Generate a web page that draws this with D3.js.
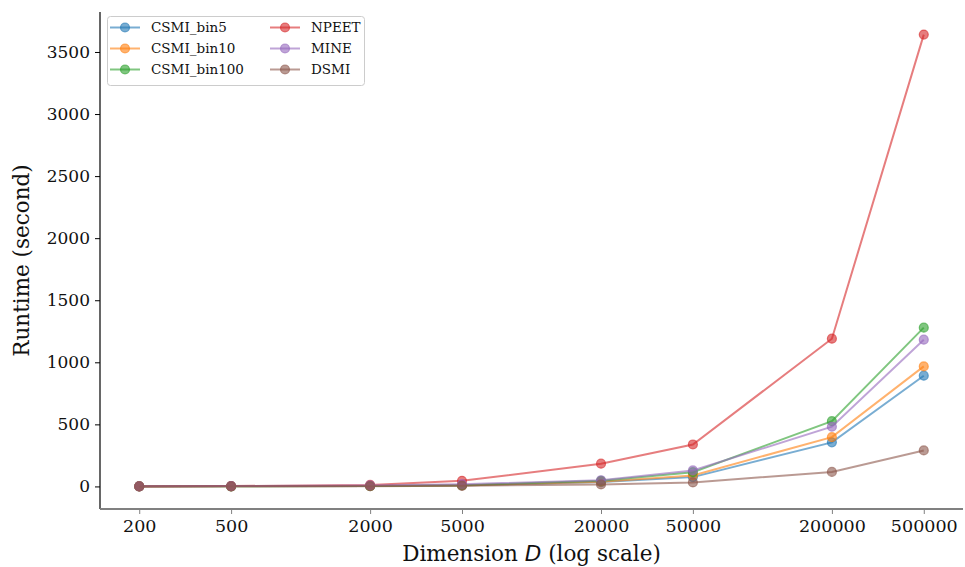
<!DOCTYPE html>
<html>
<head>
<meta charset="utf-8">
<script src="https://cdn.jsdelivr.net/npm/d3@7"></script>
<style>
  html, body { margin: 0; padding: 0; background: #fff; }
  svg { display: block; }
  text { font-family: "DejaVu Serif", serif; }
</style>
</head>
<body>
<svg id="chart" width="965" height="567"></svg>
<script>
// Problem dimensions (x) and runtimes in seconds for each estimator
const dimensions = [200, 500, 2000, 5000, 20000, 50000, 200000, 500000];
const csmiBin5   = [0.3, 0.8, 3, 8, 35, 75, 355, 892];
const csmiBin10  = [0.3, 0.8, 3, 8, 38, 89, 397, 967];
const csmiBin100 = [0.5, 1, 4, 10, 45, 115, 526, 1279];
const npeet      = [1, 3, 12, 45, 183, 338, 1190, 3640];
const mine       = [1, 2.5, 8, 18, 50, 129, 481, 1182];
const dsmi       = [0.2, 0.5, 2, 5, 16, 32, 117, 290];
const seriesNames = ["CSMI_bin5", "CSMI_bin10", "CSMI_bin100", "NPEET", "MINE", "DSMI"];
const yTicks = [0, 500, 1000, 1500, 2000, 2500, 3000, 3500];

const seriesValues = [csmiBin5, csmiBin10, csmiBin100, npeet, mine, dsmi];
const colors = ["#1f77b4", "#ff7f0e", "#2ca02c", "#d62728", "#9467bd", "#8c564b"];
const series = seriesNames.map((name, i) => ({
  name, color: colors[i],
  points: dimensions.map((d, j) => ({ x: d, y: seriesValues[i][j] }))
}));

const svg = d3.select("#chart");
const plot = { left: 100, right: 963, top: 12, bottom: 509 };

// log x domain with 5% padding on each side
const lx0 = Math.log10(d3.min(dimensions)), lx1 = Math.log10(d3.max(dimensions));
const padX = (lx1 - lx0) * 0.05;
const x = d3.scaleLog()
  .domain([Math.pow(10, lx0 - padX), Math.pow(10, lx1 + padX)])
  .range([plot.left, plot.right]);

const allY = seriesValues.flat();
const yMin = d3.min(allY), yMax = d3.max(allY);
const padY = (yMax - yMin) * 0.05;
const y = d3.scaleLinear()
  .domain([yMin - padY, yMax + padY])
  .range([plot.bottom, plot.top]);

// axes
const xAxis = d3.axisBottom(x).tickValues(dimensions).tickFormat(d3.format("d")).tickSize(5).tickPadding(6);
const gx = svg.append("g").attr("transform", `translate(0,${plot.bottom})`).call(xAxis);
gx.select(".domain").remove();
gx.selectAll(".tick line").attr("stroke", "#808080").attr("stroke-width", 1);
gx.selectAll(".tick text").attr("font-family", "DejaVu Serif").attr("font-size", 17.5).attr("fill", "#111");

const yAxis = d3.axisLeft(y).tickValues(yTicks).tickFormat(d3.format("d")).tickSize(5).tickPadding(5);
const gy = svg.append("g").attr("transform", `translate(${plot.left},0)`).call(yAxis);
gy.select(".domain").remove();
gy.selectAll(".tick line").attr("stroke", "#000");
gy.selectAll(".tick text").attr("font-family", "DejaVu Serif").attr("font-size", 17).attr("fill", "#111");

// spines: left and bottom only
svg.append("line").attr("x1", plot.left).attr("x2", plot.left)
  .attr("y1", plot.top).attr("y2", plot.bottom).attr("stroke", "#000").attr("stroke-width", 1.2);
svg.append("line").attr("x1", plot.left).attr("x2", plot.right)
  .attr("y1", plot.bottom).attr("y2", plot.bottom).attr("stroke", "#808080").attr("stroke-width", 2);

// axis titles
const xt = svg.append("text")
  .attr("x", (plot.left + plot.right) / 2).attr("y", 561)
  .attr("text-anchor", "middle").attr("font-size", 21.5).attr("fill", "#111");
xt.append("tspan").text("Dimension ");
xt.append("tspan").attr("font-family", "DejaVu Sans").attr("font-style", "italic").text("D");
xt.append("tspan").text(" (log scale)");

svg.append("text")
  .attr("transform", `translate(29,${(plot.top + plot.bottom) / 2}) rotate(-90)`)
  .attr("text-anchor", "middle").attr("font-size", 21.5).attr("fill", "#111")
  .text("Runtime (second)");

// lines and markers
const line = d3.line().x(d => x(d.x)).y(d => y(d.y));
const g = svg.append("g");
series.forEach(s => {
  g.append("path").datum(s.points)
    .attr("d", line).attr("fill", "none")
    .attr("stroke", s.color).attr("stroke-width", 2).attr("stroke-opacity", 0.6);
  g.selectAll(null).data(s.points).enter().append("circle")
    .attr("cx", d => x(d.x)).attr("cy", d => y(d.y)).attr("r", 4.5)
    .attr("fill", s.color).attr("fill-opacity", 0.6)
    .attr("stroke", s.color).attr("stroke-opacity", 0.6).attr("stroke-width", 1.2);
});

// legend, two columns
const leg = svg.append("g");
leg.append("rect").attr("x", 107.5).attr("y", 16.5).attr("width", 257).attr("height", 69)
  .attr("rx", 3).attr("fill", "#fff").attr("fill-opacity", 0.8).attr("stroke", "#ccc").attr("stroke-width", 1);
series.forEach((s, i) => {
  const col = Math.floor(i / 3), row = i % 3;
  const lx = col === 0 ? 110 : 270;
  const ly = 27.5 + row * 21;
  leg.append("line").attr("x1", lx).attr("x2", lx + 30).attr("y1", ly).attr("y2", ly)
    .attr("stroke", s.color).attr("stroke-width", 2).attr("stroke-opacity", 0.6);
  leg.append("circle").attr("cx", lx + 15).attr("cy", ly).attr("r", 4.5)
    .attr("fill", s.color).attr("fill-opacity", 0.6)
    .attr("stroke", s.color).attr("stroke-opacity", 0.6).attr("stroke-width", 1.2);
  leg.append("text").attr("x", lx + 41).attr("y", ly).attr("dy", "0.35em")
    .attr("font-size", 13.5).attr("fill", "#111").text(s.name);
});
</script>
</body>
</html>
